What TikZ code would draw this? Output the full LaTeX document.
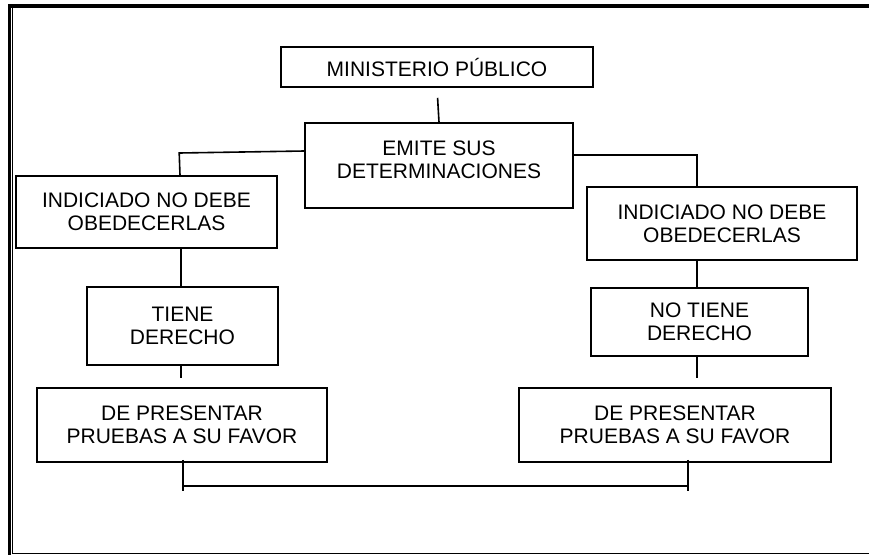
\documentclass[tikz,border=0pt]{standalone}
\usepackage{fontspec}
\setmainfont{Liberation Sans}
\usetikzlibrary{calc}

\begin{document}
\begin{tikzpicture}[x=1pt, y=-1pt,
  box/.style={draw, line width=1.6pt, align=center, inner sep=0pt,
    font=\fontsize{21}{23}\selectfont},
  link/.style={line width=1.6pt}]
  \useasboundingbox (0,0) rectangle (869,555);
  % page frame
  \draw[line width=3.5pt] (8,5.8) -- (869,5.8);
  \draw[line width=2.6pt] (9.2,4.3) -- (9.2,555);
  \draw[line width=1.2pt] (12.6,7.3) -- (12.6,553.3) -- (869,553.3);
  % boxes
  \node[box, minimum width=312pt, minimum height=40pt] (min) at (437,67) {MINISTERIO PÚBLICO};
  \node[box, minimum width=268pt, minimum height=85pt, text depth=12pt] (emite) at (439,165.5)
    {EMITE SUS\\DETERMINACIONES};
  \node[box, minimum width=261pt, minimum height=72pt] (indL) at (146.5,212)
    {INDICIADO NO DEBE\\OBEDECERLAS};
  \node[box, minimum width=270pt, minimum height=73pt] (indR) at (722,223.5)
    {INDICIADO NO DEBE\\OBEDECERLAS};
  \node[box, minimum width=191pt, minimum height=78pt] (tiene) at (182.5,326)
    {TIENE\\DERECHO};
  \node[box, minimum width=217pt, minimum height=68pt] (notiene) at (699.5,322)
    {NO TIENE\\DERECHO};
  \node[box, minimum width=290pt, minimum height=74pt] (presL) at (182,425)
    {DE PRESENTAR\\PRUEBAS A SU FAVOR};
  \node[box, minimum width=312pt, minimum height=74pt] (presR) at (675,425)
    {DE PRESENTAR\\PRUEBAS A SU FAVOR};
  % connectors
  \draw[link, shorten <=10pt] (min.south) -- (emite.north);
  \draw[link] ($(emite.west)+(0,-14.5)$) -- ++(-125,2) -- (indL.north -| 180,0);
  \draw[link] ($(emite.east)+(0,-10.5)$) -| (indR.north -| 697,0);
  \draw[link] (indL.south -| 181,0) -- (tiene.north -| 181,0);
  \draw[link, shorten >=9pt] (tiene.south -| 181,0) -- (presL.north -| 181,0);
  \draw[link] (indR.south -| 697,0) -- (notiene.north -| 697,0);
  \draw[link, shorten >=9pt] (notiene.south -| 697,0) -- (presR.north -| 697,0);
  \draw[link] ([shift={(1,-3)}]presL.south) -- ([shift={(1,28)}]presL.south);
  \draw[link] ([shift={(13,-3)}]presR.south) -- ([shift={(13,28)}]presR.south);
  \draw[link] ([shift={(1,23)}]presL.south) -- ([shift={(13,23)}]presR.south);
\end{tikzpicture}
\end{document}
